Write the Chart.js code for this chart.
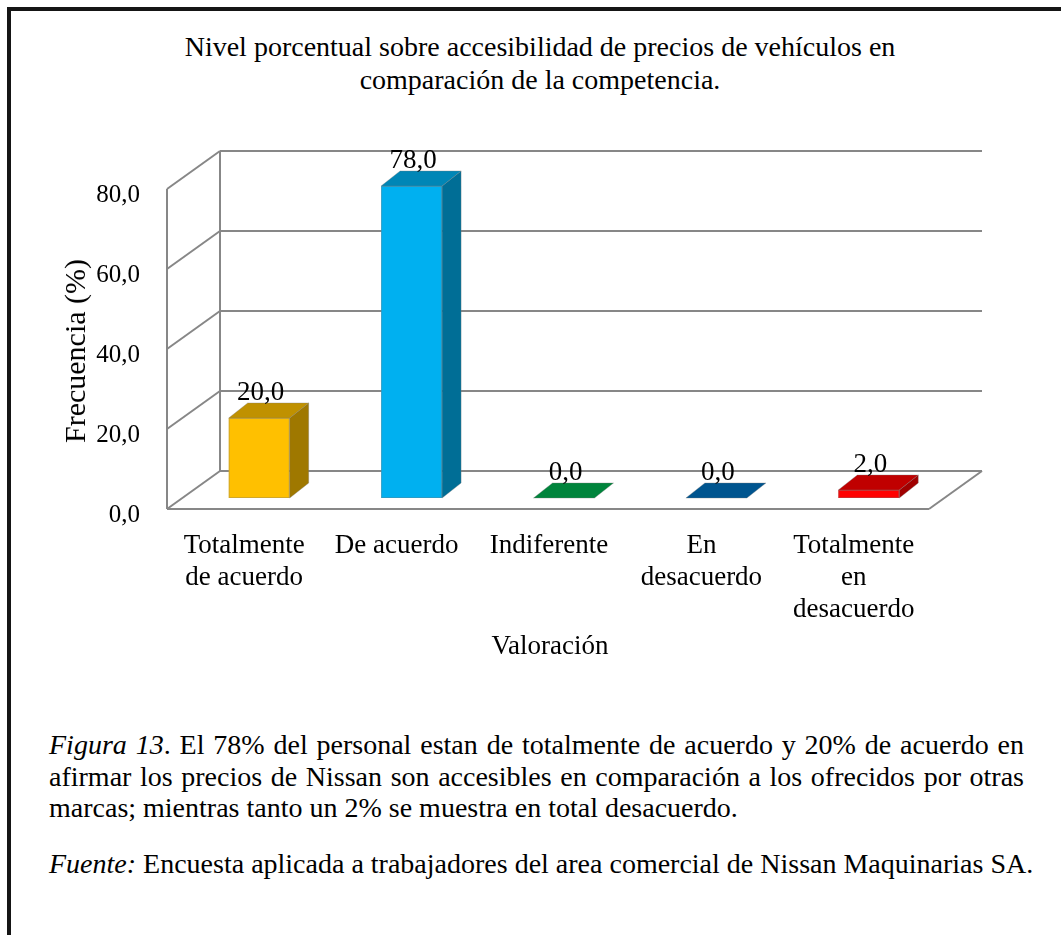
<!DOCTYPE html>
<html>
<head>
<meta charset="utf-8">
<script src="https://cdn.jsdelivr.net/npm/chart.js@4.4.1/dist/chart.umd.min.js"></script>
<style>
  html, body { margin: 0; padding: 0; background: #fff; }
  body { width: 1061px; height: 935px; overflow: hidden; position: relative;
         font-family: "Liberation Serif", "Times New Roman", serif; color: #000; }
  #frame { position: absolute; left: 7px; top: 7px; width: 1200px; height: 1100px;
           border-left: 4px solid #151515; border-top: 4px solid #151515; }
  #title { position: absolute; left: 540px; top: 30px; transform: translateX(-50%);
           font-size: 28px; line-height: 33px; text-align: center; white-space: nowrap; }
  #chartWrap { position: absolute; left: 0; top: 0; width: 1061px; height: 700px; }
  #ytitle { position: absolute; left: 75px; top: 351px; font-size: 30px; white-space: nowrap;
            transform: translate(-50%, -50%) rotate(-90deg); }
  #xtitle { position: absolute; left: 550px; top: 645px; font-size: 27px; white-space: nowrap;
            transform: translate(-50%, -50%); }
  #caption { position: absolute; left: 49px; top: 729px; width: 975px; font-size: 28px; line-height: 31.5px; }
  .j { display: block; text-align: justify; text-align-last: justify; white-space: nowrap; }
  .l { display: block; white-space: nowrap; }
  #source { position: absolute; left: 49px; top: 848px; font-size: 28px; line-height: 31.5px; white-space: nowrap; }
</style>
</head>
<body>
<div id="frame"></div>
<div id="title">Nivel porcentual sobre accesibilidad de precios de vehículos en<br>comparación de la competencia.</div>
<div id="chartWrap"><canvas id="c"></canvas></div>
<div id="ytitle">Frecuencia (%)</div>
<div id="xtitle">Valoración</div>
<div id="caption">
  <span class="j"><i>Figura 13</i>. El 78% del personal estan de totalmente de acuerdo y 20% de acuerdo en</span>
  <span class="j">afirmar los precios de Nissan son accesibles en comparación a los ofrecidos por otras</span>
  <span class="l">marcas; mientras tanto un 2% se muestra en total desacuerdo.</span>
</div>
<div id="source"><i>Fuente:</i> Encuesta aplicada a trabajadores del area comercial de Nissan Maquinarias SA.</div>
<script>
// ---- data ----
const categories = [
  ["Totalmente", "de acuerdo"],
  ["De acuerdo"],
  ["Indiferente"],
  ["En", "desacuerdo"],
  ["Totalmente", "en", "desacuerdo"]
];
const values = [20, 78, 0, 0, 2];
const yMin = 0, yMax = 80, yStep = 20;

// ---- styles ----
const frontColors = ["#FFC000", "#00B0F0", "#00B050", "#0070C0", "#FF0000"];
const topColors   = ["#C09100", "#0086B6", "#00843C", "#00558F", "#C00000"];
const sideColors  = ["#9F7800", "#006E96", "#006B30", "#004374", "#A00000"];
const GRID = "#878787";
const FRONT = {x: -16, y: 11};   // front plane relative to bar plane
const BACK  = {x: 37,  y: -27};  // back wall relative to bar plane
const DEPTH = {x: 19,  y: -15};  // bar depth
const FONT = "'Liberation Serif', 'Times New Roman', serif";

function fmt(v) { return Number(v).toFixed(1).replace('.', ','); }

const depth3d = {
  id: 'depth3d',
  beforeDatasetsDraw(chart) {
    const {ctx, chartArea: a, scales: {y}} = chart;
    ctx.save();
    ctx.strokeStyle = GRID;
    ctx.lineWidth = 2;
    ctx.lineCap = 'butt';
    const line = (x1, y1, x2, y2) => { ctx.beginPath(); ctx.moveTo(x1, y1); ctx.lineTo(x2, y2); ctx.stroke(); };
    y.ticks.forEach(t => {
      const py = y.getPixelForValue(t.value);
      line(a.left + BACK.x, py + BACK.y, a.right + BACK.x, py + BACK.y);
      line(a.left + FRONT.x, py + FRONT.y, a.left + BACK.x, py + BACK.y);
    });
    line(a.left + FRONT.x, a.top + FRONT.y, a.left + FRONT.x, a.bottom + FRONT.y);
    line(a.left + BACK.x, a.top + BACK.y, a.left + BACK.x, a.bottom + BACK.y);
    line(a.left + FRONT.x, a.bottom + FRONT.y, a.right + FRONT.x, a.bottom + FRONT.y);
    line(a.right + FRONT.x, a.bottom + FRONT.y, a.right + BACK.x, a.bottom + BACK.y);
    ctx.restore();
  },
  afterDatasetsDraw(chart) {
    const {ctx} = chart;
    const meta = chart.getDatasetMeta(0);
    ctx.save();
    meta.data.forEach((bar, i) => {
      const p = bar.getProps(['x', 'y', 'base', 'width'], true);
      const x1 = p.x - p.width / 2, x2 = p.x + p.width / 2;
      const yt = Math.min(p.y, p.base), yb = Math.max(p.y, p.base);
      ctx.strokeStyle = 'rgba(120,120,120,0.35)';
      ctx.lineWidth = 1;
      if (yb - yt > 0) {
        ctx.beginPath();
        ctx.moveTo(x2, yt); ctx.lineTo(x2 + DEPTH.x, yt + DEPTH.y);
        ctx.lineTo(x2 + DEPTH.x, yb + DEPTH.y); ctx.lineTo(x2, yb); ctx.closePath();
        ctx.fillStyle = sideColors[i]; ctx.fill(); ctx.stroke();
        ctx.strokeRect(x1 + 0.5, yt + 0.5, p.width - 1, yb - yt - 1);
      }
      ctx.beginPath();
      ctx.moveTo(x1, yt); ctx.lineTo(x1 + DEPTH.x, yt + DEPTH.y);
      ctx.lineTo(x2 + DEPTH.x, yt + DEPTH.y); ctx.lineTo(x2, yt); ctx.closePath();
      ctx.fillStyle = topColors[i]; ctx.fill(); ctx.stroke();
      ctx.fillStyle = '#000';
      ctx.font = "27px " + FONT;
      ctx.textAlign = 'center';
      ctx.textBaseline = 'middle';
      ctx.fillText(fmt(values[i]), p.x + 1.5, yt - 25);
    });
    ctx.restore();
  }
};

Chart.defaults.font.family = FONT;
Chart.defaults.color = '#000';

new Chart(document.getElementById('c'), {
  type: 'bar',
  data: {
    labels: categories,
    datasets: [{
      data: values,
      backgroundColor: frontColors,
      borderWidth: 0,
      barPercentage: 0.4,
      categoryPercentage: 1.0
    }]
  },
  options: {
    responsive: true,
    maintainAspectRatio: false,
    animation: false,
    events: [],
    layout: { padding: { left: 0, right: 116, top: 178, bottom: 0 } },
    plugins: { legend: { display: false }, tooltip: { enabled: false }, title: { display: false } },
    scales: {
      x: {
        grid: { display: false, drawTicks: false },
        border: { display: false },
        ticks: { font: { size: 27, lineHeight: 1.19 }, padding: 32, labelOffset: -15, maxRotation: 0, autoSkip: false },
        afterFit(s) { s.height = 202; }
      },
      y: {
        min: yMin, max: yMax,
        grid: { display: false, drawTicks: false },
        border: { display: false },
        ticks: { stepSize: yStep, font: { size: 25 }, padding: 43, labelOffset: 17, callback: v => fmt(v) },
        afterFit(s) { s.width = 183; }
      }
    }
  },
  plugins: [depth3d]
});
</script>
</body>
</html>
